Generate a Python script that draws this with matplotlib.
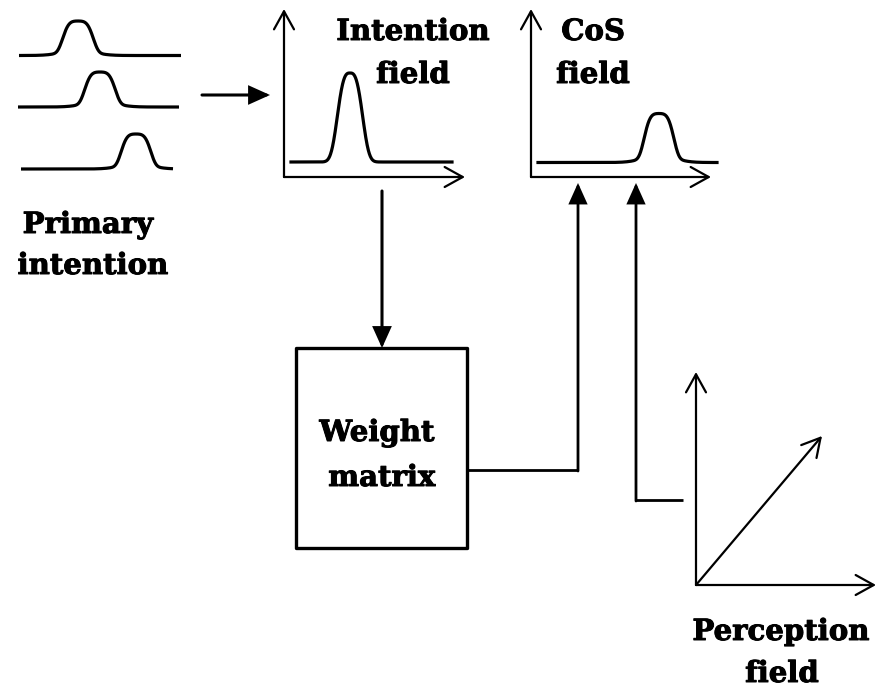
import numpy as np
import matplotlib
matplotlib.use("Agg")
import matplotlib.pyplot as plt
import matplotlib.patheffects as pe

# ---- data: bump curves (center, baseline, height, width, x-start, x-end) ----
primary_centers = [78, 100, 136]
primary_baselines = [55.5, 107, 169]
primary_heights = [34.5, 35, 35]
primary_widths = [16.5, 16.5, 16.0]
primary_x0 = [19, 18, 21]
primary_x1 = [181, 179, 173]

intention_center = 350
intention_baseline = 162
intention_height = 89
intention_width = 14.5
intention_x = [291, 452]

cos_center = 659
cos_baseline = 162.5
cos_height = 49
cos_width = 16.0
cos_x = [538, 717]

labels = {
    "primary": ["Primary", "intention"],
    "intention": ["Intention", "field"],
    "cos": ["CoS", "field"],
    "weight": ["Weight", "matrix"],
    "perception": ["Perception", "field"],
}

# ---- layout ----
W, H = 877, 687
fig = plt.figure(figsize=(W / 100, H / 100), dpi=100)
ax = fig.add_axes([0, 0, 1, 1])
ax.set_xlim(0, W)
ax.set_ylim(H, 0)
ax.axis("off")

FONT = dict(family="DejaVu Serif", weight="bold", fontsize=21, color="black")
CURVE_LW = 2.3
AXIS_LW = 1.6


def flat_bump(x0, x1, c, base, h, w):
    x = np.linspace(x0, x1, 800)
    d = np.abs(x - c)
    s = 0.85 * np.exp(-(d / w) ** 4) + 0.15 * np.exp(-(d / (1.33 * w)) ** 2)
    return x, base - h * s


def peak_bump(x0, x1, c, base, h, w, p=3.0):
    x = np.linspace(x0, x1, 800)
    y = base - h * np.exp(-(np.abs(x - c) / w) ** p)
    return x, y


def open_arrow(start, end, lw=AXIS_LW):
    ax.annotate("", xy=end, xytext=start,
                arrowprops=dict(arrowstyle="->,head_length=0.65,head_width=0.36",
                                lw=lw, color="black", shrinkA=0, shrinkB=0,
                                mutation_scale=20))


def filled_arrow(start, end, lw=2.2):
    ax.annotate("", xy=end, xytext=start,
                arrowprops=dict(arrowstyle="-|>,head_length=0.6,head_width=0.27",
                                lw=lw, color="black", shrinkA=0, shrinkB=0,
                                mutation_scale=20, joinstyle="miter"))


# Primary intention curves
for c, b, h, w, a, e in zip(primary_centers, primary_baselines, primary_heights,
                            primary_widths, primary_x0, primary_x1):
    x, y = flat_bump(a, e, c, b, h, w)
    ax.plot(x, y, color="black", lw=CURVE_LW, solid_capstyle="butt")

# Intention field axes + curve
open_arrow((284, 177), (284, 9))
open_arrow((284, 177), (465, 177))
x, y = peak_bump(intention_x[0], intention_x[1], intention_center,
                 intention_baseline, intention_height, intention_width)
ax.plot(x, y, color="black", lw=CURVE_LW)

# CoS field axes + curve
open_arrow((531, 177), (531, 9))
open_arrow((531, 177), (711, 177))
x, y = flat_bump(cos_x[0], cos_x[1], cos_center, cos_baseline, cos_height, cos_width)
ax.plot(x, y, color="black", lw=CURVE_LW)

# Perception field axes
open_arrow((696, 585), (696, 372))
open_arrow((696, 585), (876, 585))
open_arrow((696, 585), (822, 436))

# Weight matrix box
ax.add_patch(plt.Rectangle((296, 348), 171, 200, fill=False, lw=2.4,
                           edgecolor="black", joinstyle="round"))

# Arrows
filled_arrow((202, 95), (270, 95))
filled_arrow((382, 191), (382, 348))
ax.plot([467, 578], [470, 470], color="black", lw=2.0, solid_capstyle="butt")
filled_arrow((578, 471), (578, 183), lw=2.0)
ax.plot([683, 636], [500, 500], color="black", lw=2.0, solid_capstyle="butt")
filled_arrow((636, 501), (636, 183), lw=2.0)

# Labels
STROKE = [pe.withStroke(linewidth=0.7, foreground="black")]


def two_lines(lines, xs, ys):
    for t, xx, yy in zip(lines, xs, ys):
        ax.text(xx, yy, t, ha="center", va="baseline", path_effects=STROKE, **FONT)


two_lines(labels["primary"], [88, 93], [233, 274])
two_lines(labels["intention"], [413, 413], [40, 83])
two_lines(labels["cos"], [593, 593], [40, 83])
two_lines(labels["weight"], [377, 382], [441, 486])
two_lines(labels["perception"], [781, 782], [640, 682])

fig.savefig("out.png", dpi=100, facecolor="white")
